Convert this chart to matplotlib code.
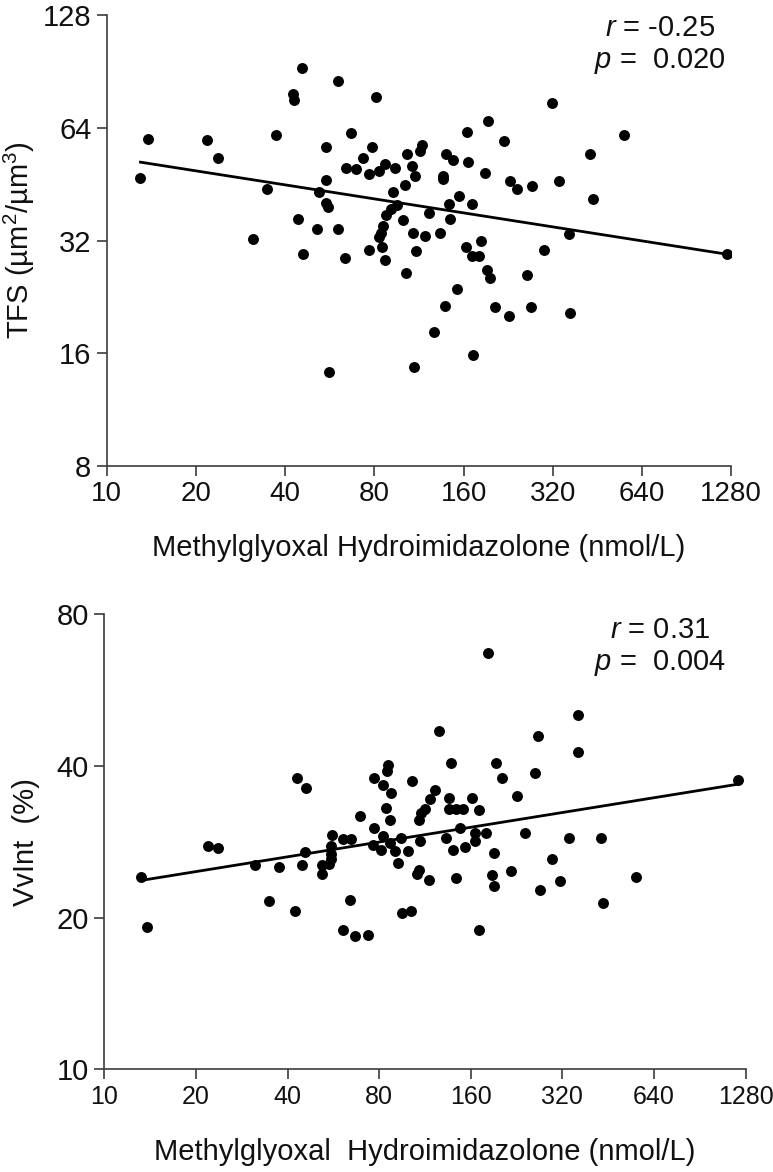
import matplotlib.pyplot as plt
from matplotlib.ticker import FixedLocator, FixedFormatter, NullLocator

plt.rcParams["font.family"] = ["Liberation Sans", "DejaVu Sans"]
plt.rcParams["mathtext.fontset"] = "custom"
plt.rcParams["mathtext.rm"] = "Liberation Sans"
plt.rcParams["mathtext.it"] = "Liberation Sans:italic"

# top panel: MG-H1 vs TFS
mgh1_top = [13.0, 13.8, 21.8, 23.7, 31.1, 34.7, 37.3, 42.4, 42.9, 45.7,
            44.2, 46.1, 51.2, 52.0, 54.8, 55.1, 55.1, 55.7, 56.4, 60.2,
            60.2, 63.8, 64.2, 66.5, 69.3, 73.3, 77.0, 77.0, 78.4, 80.9,
            83.0, 87.0, 93.8, 92.7, 95.2, 91.1, 87.6, 85.6, 84.2, 82.8,
            85.0, 87.1, 100.0, 101.5, 102.3, 103.4, 106.8, 109.3, 114.1, 115.9,
            108.3, 110.2, 109.2, 118.6, 122.6, 127.5, 132.8, 136.2, 136.7, 138.6,
            139.7, 143.3, 144.1, 147.8, 151.8, 153.9, 163.2, 164.4, 165.7, 170.9,
            170.9, 172.5, 180.5, 182.5, 189.1, 191.6, 193.2, 196.6, 204.8, 218.9,
            227.8, 229.3, 242.9, 261.6, 270.4, 272.5, 297.9, 317.8, 335.4, 363.5,
            365.4, 425.6, 437.1, 557.4, 1241]
tfs = [46.9, 59.6, 59.2, 53.0, 32.2, 43.8, 61.2, 78.8, 76.1, 92.2,
       36.6, 29.4, 34.3, 43.0, 57.0, 46.4, 40.2, 39.4, 14.3, 85.5,
       34.3, 28.8, 50.1, 62.0, 49.8, 53.1, 48.2, 30.2, 57.0, 77.2,
       49.2, 51.2, 50.1, 43.2, 39.9, 38.8, 37.5, 34.9, 33.6, 32.6,
       30.8, 28.3, 36.3, 44.9, 26.2, 54.5, 50.6, 47.7, 55.6, 57.4,
       33.6, 30.0, 14.7, 32.8, 38.0, 18.2, 33.6, 47.6, 46.6, 21.4,
       54.5, 40.1, 36.5, 52.5, 23.7, 42.1, 30.8, 62.3, 51.8, 40.1,
       29.1, 15.8, 29.1, 31.9, 48.5, 26.7, 66.9, 25.4, 21.2, 58.9,
       20.1, 46.2, 43.8, 25.9, 21.2, 44.7, 30.2, 74.6, 46.1, 33.4,
       20.5, 54.5, 41.3, 61.2, 29.4]
tfs_fit_x = [13.0, 1241]
tfs_fit_y = [51.8, 29.4]

# bottom panel: MG-H1 vs VvInt
mgh1_bot = [13.2, 13.8, 21.9, 23.7, 31.3, 34.7, 37.6, 42.4, 42.9, 44.5,
            45.8, 46.1, 51.8, 52.0, 56.2, 55.5, 55.6, 55.5, 54.9, 60.7,
            64.5, 64.0, 60.7, 66.7, 73.3, 69.2, 77.2, 77.2, 76.6, 80.9,
            82.1, 82.7, 84.2, 84.7, 85.7, 87.6, 86.9, 86.9, 89.9, 92.3,
            94.2, 95.1, 101.6, 99.6, 102.4, 107.8, 110.0, 113.2, 108.9, 107.9,
            106.6, 116.3, 117.6, 122.4, 126.2, 132.4, 135.4, 135.8, 137.6, 139.8,
            142.9, 143.2, 150.7, 147.5, 153.0, 161.6, 165.1, 165.1, 170.0, 170.0,
            180.3, 181.9, 188.6, 191.5, 191.5, 193.7, 203.5, 217.7, 226.3, 241.3,
            260.3, 265.6, 269.5, 297.0, 313.6, 336.7, 361.3, 361.3, 427.5, 435.4,
            559.8, 1212]
vvint = [24.1, 19.2, 27.7, 27.5, 25.4, 21.6, 25.2, 20.6, 37.8, 25.4,
         27.0, 36.2, 25.4, 24.4, 29.2, 27.7, 26.8, 26.1, 25.5, 28.6,
         28.6, 21.7, 18.9, 18.4, 18.5, 31.8, 37.8, 30.1, 27.9, 27.2,
         29.1, 36.7, 33.0, 39.1, 40.1, 35.3, 31.2, 28.1, 27.1, 25.7,
         28.8, 20.4, 20.6, 27.1, 37.4, 31.2, 32.2, 32.8, 28.4, 24.9,
         24.4, 23.8, 34.4, 35.9, 46.9, 28.8, 32.9, 34.6, 40.6, 27.2,
         24.0, 32.8, 32.8, 30.1, 27.6, 34.6, 29.4, 28.4, 18.9, 32.7,
         29.5, 67.1, 24.3, 23.1, 26.9, 40.5, 37.8, 24.7, 34.9, 29.5,
         38.7, 45.8, 22.7, 26.2, 23.6, 28.8, 50.4, 42.6, 28.8, 21.4,
         24.1, 37.5]
vv_fit_x = [13.2, 1212]
vv_fit_y = [23.7, 36.8]

x_ticks = [10, 20, 40, 80, 160, 320, 640, 1280]
tfs_ticks = [8, 16, 32, 64, 128]
vv_ticks = [10, 20, 40, 80]
xlabel = "Methylglyoxal Hydroimidazolone (nmol/L)"

W, H = 773, 1172
fig = plt.figure(figsize=(W / 100, H / 100), dpi=100)

ax1 = fig.add_axes([106.7 / W, 1 - 466 / H, 624.6 / W, 451 / H])
ax2 = fig.add_axes([104.3 / W, 1 - 1069.3 / H, 641.2 / W, 455.1 / H])


def style(ax, yticks, xlab, xsize):
    ax.set_xscale("log", base=2)
    ax.set_yscale("log", base=2)
    ax.set_xlim(x_ticks[0], x_ticks[-1])
    ax.set_ylim(yticks[0], yticks[-1])
    ax.xaxis.set_major_locator(FixedLocator(x_ticks))
    ax.xaxis.set_major_formatter(FixedFormatter([str(t) for t in x_ticks]))
    ax.yaxis.set_major_locator(FixedLocator(yticks))
    ax.yaxis.set_major_formatter(FixedFormatter([str(t) for t in yticks]))
    ax.xaxis.set_minor_locator(NullLocator())
    ax.yaxis.set_minor_locator(NullLocator())
    for s in ("top", "right"):
        ax.spines[s].set_visible(False)
    for s in ("left", "bottom"):
        ax.spines[s].set_color("#3c3c3c")
        ax.spines[s].set_linewidth(1.2)
    ax.tick_params(direction="out", length=7, width=1.2, color="#3c3c3c",
                   labelsize=21, pad=4, labelcolor="#111111")
    ax.tick_params(axis="x", labelsize=xsize)
    ax.set_xlabel(xlab, fontsize=21, color="#111111")
    ax.xaxis.set_label_coords(0.5, -0.15)


style(ax1, tfs_ticks, xlabel, 20)
ax1.scatter(mgh1_top, tfs, s=62, color="black", zorder=3, linewidths=0)
ax1.plot(tfs_fit_x, tfs_fit_y, color="black", lw=2.0, zorder=2)
ax1.set_ylabel("TFS (µm$^2$/µm$^3$)", fontsize=21, color="#111111")
ax1.yaxis.set_label_coords(-0.112, 0.5)

style(ax2, vv_ticks, xlabel.replace(" ", "  ", 1), 18)
ax2.scatter(mgh1_bot, vvint, s=62, color="black", zorder=3, linewidths=0)
ax2.plot(vv_fit_x, vv_fit_y, color="black", lw=2.0, zorder=2)
ax2.set_ylabel("VvInt  (%)", fontsize=21, color="#111111")
ax2.yaxis.set_label_coords(-0.100, 0.5)

fig.text(660 / W, 1 - 45 / H, "$\\it{r}$ = -0.25\n$\\it{p}$ =  0.020",
         ha="center", va="center", multialignment="center", fontsize=21,
         color="#111111", linespacing=1.15)
fig.text(660 / W, 1 - 647 / H, "$\\it{r}$ = 0.31\n$\\it{p}$ =  0.004",
         ha="center", va="center", multialignment="center", fontsize=21,
         color="#111111", linespacing=1.15)

fig.savefig("out.png", dpi=100, facecolor="white")
